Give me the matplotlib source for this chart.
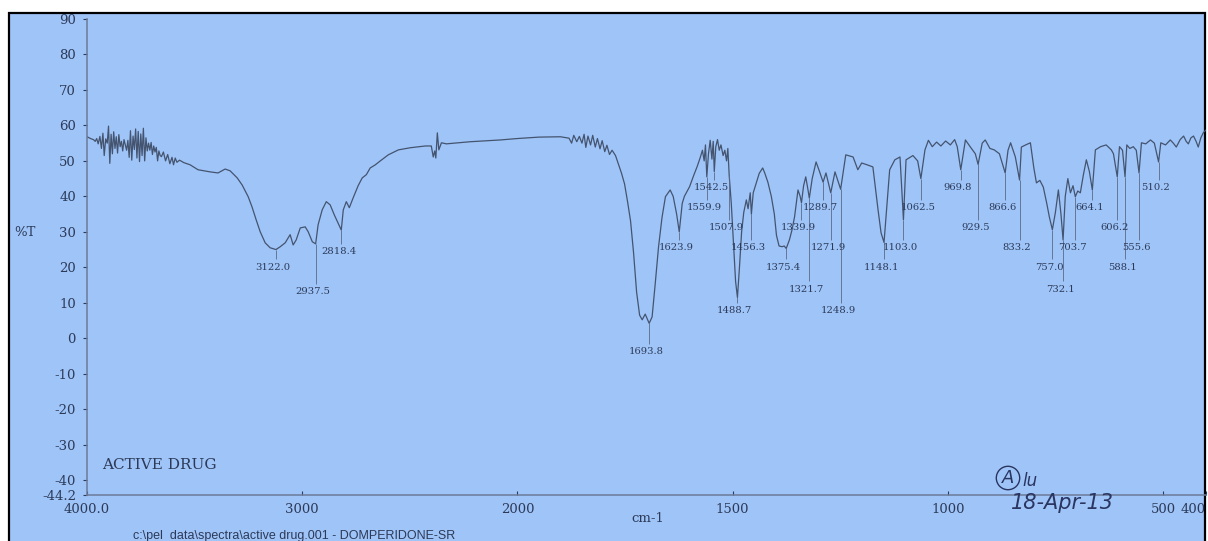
import numpy as np
import matplotlib
matplotlib.use('Agg')
import matplotlib.pyplot as plt
from matplotlib.patches import Rectangle
from matplotlib.ticker import NullLocator

# FTIR spectrum of the active drug (wavenumber cm-1, %T)
wavenumber = [4000, 3990, 3980, 3970, 3962, 3955, 3948, 3940, 3933, 3926, 3920, 3913,
              3906, 3900, 3894, 3888, 3882, 3876, 3870, 3864, 3858, 3852, 3846, 3840,
              3834, 3828, 3822, 3816, 3810, 3804, 3798, 3792, 3786, 3780, 3774, 3768,
              3762, 3756, 3750, 3744, 3738, 3732, 3726, 3720, 3714, 3708, 3702, 3696,
              3690, 3684, 3678, 3672, 3666, 3660, 3654, 3645, 3635, 3625, 3615, 3605,
              3598, 3590, 3582, 3570, 3550, 3521, 3484, 3428, 3391, 3358, 3335, 3302,
              3279, 3251, 3233, 3214, 3195, 3172, 3149, 3122.0, 3102, 3079, 3056, 3042,
              3028, 3009, 2986, 2972, 2953, 2937.5, 2926, 2907, 2888, 2870, 2851, 2818.4,
              2809, 2795, 2781, 2763, 2740, 2721, 2702, 2684, 2660, 2637, 2600, 2553,
              2498, 2428, 2400, 2391, 2384, 2379, 2372, 2365, 2353, 2330, 2219, 2079,
              2000, 1950, 1900, 1880, 1874, 1869, 1862, 1856, 1850, 1845, 1841, 1836,
              1830, 1825, 1819, 1814, 1808, 1803, 1797, 1792, 1786, 1780, 1772, 1765,
              1758, 1751, 1744, 1737, 1730, 1723, 1716, 1710, 1703, 1693.8, 1687, 1680,
              1672, 1664, 1656, 1645, 1638, 1630, 1623.9, 1617, 1612, 1600, 1590, 1582,
              1575, 1570, 1566, 1563, 1559.9, 1556, 1552, 1548, 1545, 1542.5, 1539, 1535,
              1531, 1527, 1522, 1518, 1514, 1511, 1507.9, 1503, 1498, 1493, 1488.7, 1484,
              1479, 1474, 1468, 1464, 1459, 1456.3, 1452, 1445, 1438, 1430, 1425, 1418,
              1410, 1403, 1398, 1392, 1385, 1380, 1375.4, 1368, 1362, 1356, 1348, 1343,
              1339.9, 1335, 1330, 1325, 1321.7, 1315, 1306, 1298, 1289.7, 1283, 1271.9,
              1262, 1248.9, 1237, 1220, 1209, 1200, 1190, 1174, 1162, 1155, 1148.1, 1135,
              1123, 1111, 1103.0, 1097, 1081, 1070, 1062.5, 1053, 1045, 1036, 1026, 1016,
              1005, 994, 984, 978, 969.8, 959, 948, 936, 929.5, 920, 913, 902, 892, 880,
              866.6, 860, 854, 843, 833.2, 829, 819, 808, 800, 794, 786, 778, 770, 764,
              757.0, 750, 743, 737, 732.1, 727, 721, 715, 709, 703.7, 698, 692, 685, 678,
              671, 664.1, 657, 645, 632, 620, 615, 606.2, 601, 594, 588.1, 584, 577, 569,
              562, 555.6, 550, 540, 529, 520, 510.2, 505, 494, 483, 476, 469, 460, 452,
              446, 441, 435, 429, 423, 418, 412, 406, 400]
transmittance = [56.8, 56.5, 56.2, 56.0, 55.5, 56.3, 54.8, 56.9, 53.5, 57.8, 51.5, 56.2,
                 55.0, 59.8, 49.3, 57.5, 52.0, 58.2, 53.5, 56.8, 52.2, 57.4, 54.0, 55.5,
                 52.8, 56.0, 54.5, 53.0, 55.8, 51.0, 58.5, 50.2, 57.0, 53.2, 59.0, 50.8,
                 58.3, 49.8, 57.6, 51.5, 59.2, 50.0, 56.5, 52.8, 55.0, 53.0, 55.2, 51.8,
                 54.2, 52.5, 53.8, 50.0, 52.8, 51.5, 51.2, 52.5, 50.0, 51.8, 49.2, 51.0,
                 48.9, 50.8, 49.6, 50.2, 49.5, 48.9, 47.5, 46.9, 46.6, 47.7, 47.2, 45.2,
                 43.2, 39.9, 37.0, 33.4, 30.0, 26.9, 25.5, 25.0, 25.8, 26.9, 29.2, 26.3,
                 27.7, 31.1, 31.4, 30.0, 27.2, 26.6, 32.0, 36.2, 38.5, 37.6, 34.8, 30.5,
                 36.2, 38.5, 36.8, 39.6, 43.0, 45.2, 46.1, 48.0, 48.9, 50.0, 51.7, 53.1,
                 53.7, 54.2, 54.2, 51.1, 52.8, 50.8, 57.9, 53.1, 55.1, 54.8, 55.4, 55.9,
                 56.3, 56.7, 56.8, 56.4, 55.0, 57.2, 55.4, 56.9, 55.0, 57.5, 53.8, 57.0,
                 54.5, 57.2, 53.9, 56.3, 53.4, 55.7, 52.6, 54.4, 51.8, 53.0, 51.5, 49.0,
                 46.5, 43.5, 38.5, 33.0, 24.0, 13.0, 6.5, 5.2, 6.8, 4.2, 6.0, 15.0,
                 25.8, 34.0, 39.9, 41.8, 40.0, 35.0, 30.0, 38.0, 40.0, 42.7, 46.0, 48.5,
                 51.0, 53.0, 50.0, 54.5, 45.5, 52.0, 55.8, 50.5, 55.5, 47.0, 54.0, 56.0,
                 53.0, 54.5, 51.5, 53.0, 50.0, 53.5, 46.0, 38.0, 27.0, 16.0, 11.5, 20.0,
                 30.0, 35.5, 39.0, 36.5, 41.0, 35.0, 41.0, 43.8, 46.5, 48.0, 46.5, 44.0,
                 40.0, 35.0, 29.0, 26.0, 25.8, 26.0, 25.3, 27.7, 30.5, 34.2, 41.8, 40.0,
                 38.2, 43.0, 45.5, 42.0, 39.5, 45.0, 49.7, 47.0, 44.0, 46.6, 41.0,
                 46.9, 42.0, 51.7, 51.1, 47.5, 49.4, 49.0, 48.3, 36.2, 29.7, 27.0, 47.5,
                 50.3, 51.1, 33.4, 50.3, 51.5, 50.0, 45.0, 53.1, 55.8, 54.0, 55.3, 54.2,
                 55.6, 54.5, 56.0, 54.0, 47.5, 55.9, 54.0, 52.0, 49.0, 55.0, 55.9, 53.5, 53.1, 52.0,
                 46.6, 53.0, 55.1, 51.1, 44.6, 53.9, 54.5, 55.1, 48.0, 43.8, 44.5, 42.6, 38.0, 34.2,
                 30.6, 35.4, 41.8, 35.0, 27.7, 40.0, 45.0, 41.0, 43.0, 39.9, 41.5, 41.0, 46.0, 50.3,
                 47.0, 41.8, 53.1, 54.0, 54.5, 53.1, 52.0, 45.5, 54.0, 53.0, 45.5, 54.5, 53.5, 54.0,
                 53.0, 46.6, 55.1, 54.8, 55.9, 55.0, 49.7, 55.1, 54.5, 55.9, 55.0, 53.9, 56.0, 57.0,
                 55.5, 54.8, 56.5, 57.0, 55.5, 53.9, 56.5, 58.0, 58.7]

# labelled peaks and the %T level of their labels
peak_wn = [3122.0, 2937.5, 2818.4, 1693.8, 1623.9, 1559.9, 1542.5, 1507.9, 1488.7,
           1456.3, 1375.4, 1339.9, 1321.7, 1289.7, 1271.9, 1248.9, 1148.1, 1103.0,
           1062.5, 969.8, 929.5, 866.6, 833.2, 757.0, 732.1, 703.7, 664.1, 606.2,
           588.1, 555.6, 510.2]
label_level = [19.9, 13.1, 24.4, -3.8, 25.5, 36.8, 42.4, 31.1, 7.7,
               25.5, 19.9, 31.1, 13.7, 36.8, 25.5, 7.7, 19.9, 25.5,
               36.8, 42.4, 31.1, 36.8, 25.5, 19.9, 13.7, 25.5, 36.8, 31.1,
               19.9, 25.5, 42.4]

xticks = [4000, 3000, 2000, 1500, 1000, 500, 400]
xtick_labels = ['4000.0', '3000', '2000', '1500', '1000', '500', '400']
yticks = [90, 80, 70, 60, 50, 40, 30, 20, 10, 0, -10, -20, -30, -40, -44.2]
ytick_labels = ['90', '80', '70', '60', '50', '40', '30', '20', '10', '0',
                '-10', '-20', '-30', '-40', '-44.2']

bg = '#9fc4f8'
ink = '#2c3a58'
line_c = '#44546f'

plt.rcParams['font.family'] = ['DejaVu Serif']


def fwd(w):
    w = np.asarray(w, dtype=float)
    return np.where(w >= 2000, w, 2 * w - 2000)


def inv(f):
    f = np.asarray(f, dtype=float)
    return np.where(f >= 2000, f, (f + 2000) / 2)


fig = plt.figure(figsize=(12.08, 5.41), dpi=100, facecolor='white')
fig.patches.append(Rectangle((9 / 1208, -0.02), 1196 / 1208, 1.02 - 12.5 / 541,
                             transform=fig.transFigure, facecolor=bg,
                             edgecolor='black', linewidth=1.6, zorder=-5))

ax = fig.add_axes([87 / 1208, 1 - 495 / 541, 1119 / 1208, 476 / 541])
ax.set_zorder(2)
ax.set_facecolor('none')
ax.set_xscale('function', functions=(fwd, inv))
ax.set_xlim(4000, 400)
ax.set_ylim(-44.2, 90)

ax.plot(wavenumber, transmittance, color=line_c, linewidth=0.9)

wn_arr = np.array(wavenumber)
tr_arr = np.array(transmittance)
for w, lev in zip(peak_wn, label_level):
    t_peak = tr_arr[np.argmin(np.abs(wn_arr - w))]
    ax.vlines(w, lev + 2.3, t_peak, color='#5a6a88', linewidth=0.6)
    ax.annotate(f'{w:.1f}', xy=(w, lev), xytext=(-2, 0), textcoords='offset points',
                ha='center', va='center', fontsize=7.2, color=ink)

ax.set_xticks(xticks)
ax.set_xticklabels(xtick_labels)
ax.get_xticklabels()[-1].set_horizontalalignment('right')
ax.xaxis.set_minor_locator(NullLocator())
ax.set_yticks(yticks)
ax.set_yticklabels(ytick_labels)
ax.tick_params(axis='x', direction='in', length=3, pad=6, labelsize=9.5,
               colors=ink, width=0.8)
ax.tick_params(axis='y', direction='out', length=3, pad=5, labelsize=9.5,
               colors=ink, width=0.8)
for s in ['top', 'right']:
    ax.spines[s].set_visible(False)
for s in ['left', 'bottom']:
    ax.spines[s].set_color('#6b7a98')
    ax.spines[s].set_linewidth(1.1)

fig.text(25 / 1208, 1 - 233 / 541, '%T', ha='center', va='center', fontsize=9.5, color=ink)
fig.text(102 / 1208, 1 - 465 / 541, 'ACTIVE DRUG', ha='left', va='center',
         fontsize=11, color=ink)
fig.text(648 / 1208, 1 - 519 / 541, 'cm-1', ha='center', va='center', fontsize=9.5, color=ink)
fig.text(133 / 1208, 1 - 530 / 541, 'c:\\pel_data\\spectra\\active drug.001 - DOMPERIDONE-SR',
         ha='left', va='top', fontsize=9, color=ink, family='Liberation Sans')
fig.text(1062 / 1208, 1 - 503 / 541, '18-Apr-13', ha='center', va='center', fontsize=15,
         style='italic', color='#2a3560', family='DejaVu Sans')
fig.text(1008 / 1208, 1 - 478 / 541, 'A', ha='center', va='center', fontsize=13,
         style='italic', color='#2a3560', family='DejaVu Sans',
         bbox=dict(boxstyle='circle,pad=0.15', facecolor='none', edgecolor='#2a3560', linewidth=1))
fig.text(1022 / 1208, 1 - 481 / 541, 'lu', ha='left', va='center', fontsize=12,
         style='italic', color='#2a3560', family='DejaVu Sans')

fig.savefig('out.png', dpi=100, facecolor='white')
